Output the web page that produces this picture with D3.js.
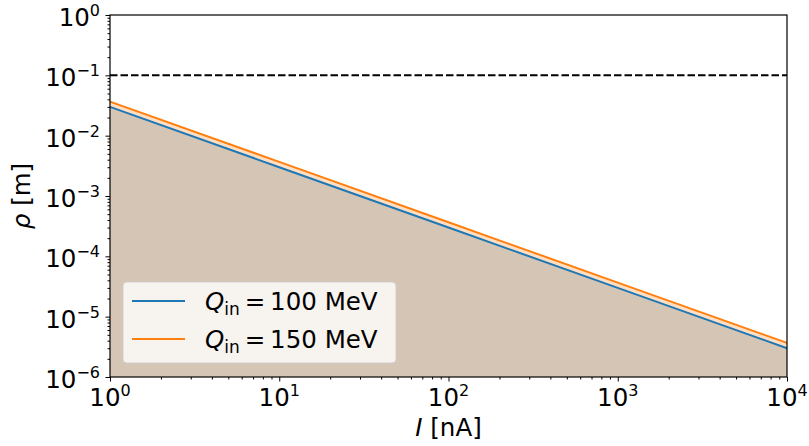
<!DOCTYPE html>
<html>
<head>
<meta charset="utf-8">
<script src="https://cdn.jsdelivr.net/npm/d3@7"></script>
<style>
  body { margin: 0; background: #fff; }
  text { font-family: "DejaVu Sans", sans-serif; fill: #000; }
</style>
</head>
<body>
<svg id="chart" width="809" height="446"></svg>
<script>
// beam current [nA] and radius rho [m] for two injection energies
var currents = [1, 10, 100, 1000, 10000];
var rho100 = [3.0e-2, 3.0e-3, 3.0e-4, 3.0e-5, 3.0e-6];
var rho150 = [3.67e-2, 3.67e-3, 3.67e-4, 3.67e-5, 3.67e-6];
var seriesNames = ['100', '150'];
var seriesColors = ['#1f77b4', '#ff7f0e'];
var limitRho = 0.1;
var xTicks = [1, 10, 100, 1000, 10000];
var yTicks = [1e-6, 1e-5, 1e-4, 1e-3, 1e-2, 1e-1, 1e0];

var svg = d3.select('#chart');
var padding = { t: 15, r: 22, b: 69, l: 110 };
var svgWidth = +svg.attr('width');
var svgHeight = +svg.attr('height');
var chartWidth = svgWidth - padding.l - padding.r;
var chartHeight = svgHeight - padding.t - padding.b;

var xScale = d3.scaleLog().domain([1, 1e4]).range([0, chartWidth]);
var yScale = d3.scaleLog().domain([1e-6, 1]).range([chartHeight, 0]);

var chartG = svg.append('g')
  .attr('transform', 'translate(' + [padding.l, padding.t] + ')');

var series = [rho100, rho150].map(function (vals, i) {
  return {
    name: seriesNames[i],
    color: seriesColors[i],
    points: currents.map(function (c, j) { return { x: c, y: vals[j] }; })
  };
});

// filled areas under each curve
var area = d3.area()
  .x(d => xScale(d.x))
  .y0(chartHeight)
  .y1(d => yScale(d.y));

chartG.selectAll('.fill')
  .data(series)
  .enter()
  .append('path')
  .attr('class', 'fill')
  .attr('d', d => area(d.points))
  .style('fill', d => d.color)
  .style('fill-opacity', 0.25);

// dashed limit
chartG.append('line')
  .attr('x1', 0)
  .attr('x2', chartWidth)
  .attr('y1', yScale(limitRho))
  .attr('y2', yScale(limitRho))
  .attr('stroke', '#000')
  .attr('stroke-width', 2)
  .attr('stroke-dasharray', '7.5,3');

var line = d3.line()
  .x(d => xScale(d.x))
  .y(d => yScale(d.y));

chartG.selectAll('.curve')
  .data(series)
  .enter()
  .append('path')
  .attr('class', 'curve')
  .attr('d', d => line(d.points))
  .attr('fill', 'none')
  .attr('stroke', d => d.color)
  .attr('stroke-width', 2);

// minor ticks
function minorValues(domain) {
  var out = [];
  var lo = Math.round(Math.log10(domain[0]));
  var hi = Math.round(Math.log10(domain[1]));
  for (var e = lo; e < hi; e++) {
    for (var m = 2; m < 10; m++) out.push(m * Math.pow(10, e));
  }
  return out;
}

var xAxisG = chartG.append('g').attr('transform', 'translate(0,' + chartHeight + ')');
xAxisG.call(d3.axisBottom(xScale).tickValues(minorValues(xScale.domain())).tickSize(2.5).tickFormat(''));
var xMajor = chartG.append('g').attr('transform', 'translate(0,' + chartHeight + ')');
xMajor.call(d3.axisBottom(xScale).tickValues(xTicks).tickSize(4.5).tickFormat(''));

var yAxisG = chartG.append('g');
yAxisG.call(d3.axisLeft(yScale).tickValues(minorValues(yScale.domain())).tickSize(2.5).tickFormat(''));
var yMajor = chartG.append('g');
yMajor.call(d3.axisLeft(yScale).tickValues(yTicks).tickSize(4.5).tickFormat(''));

chartG.selectAll('.domain').remove();
chartG.selectAll('.tick line').attr('stroke', '#000').attr('stroke-width', 1);

// frame
chartG.append('rect')
  .attr('width', chartWidth)
  .attr('height', chartHeight)
  .attr('fill', 'none')
  .attr('stroke', '#000')
  .attr('stroke-width', 1.2);

function powerLabel(sel, v) {
  var e = Math.round(Math.log10(v));
  sel.append('tspan').text('10');
  sel.append('tspan')
    .attr('dy', -10)
    .style('font-size', '16px')
    .text(e < 0 ? '\u2212' + (-e) : '' + e);
}

xTicks.forEach(function (v) {
  var t = chartG.append('text')
    .attr('x', xScale(v))
    .attr('y', chartHeight + 29)
    .style('font-size', '24.5px')
    .style('text-anchor', 'middle');
  powerLabel(t, v);
});

yTicks.forEach(function (v) {
  var t = chartG.append('text')
    .attr('x', -10)
    .attr('y', yScale(v) + 11)
    .style('font-size', '24.5px')
    .style('text-anchor', 'end');
  powerLabel(t, v);
});

// axis titles
var xl = svg.append('text')
  .attr('x', padding.l + chartWidth / 2)
  .attr('y', 436)
  .style('font-size', '24.5px')
  .style('text-anchor', 'middle');
xl.append('tspan').style('font-style', 'italic').text('I');
xl.append('tspan').text(' [nA]');

var yl = svg.append('text')
  .attr('transform', 'translate(30,' + (padding.t + chartHeight / 2) + ') rotate(-90)')
  .style('font-size', '24.5px')
  .style('text-anchor', 'middle');
yl.append('tspan').style('font-style', 'italic').text('\u03c1');
yl.append('tspan').text(' [m]');

// legend
var legendG = svg.append('g').attr('transform', 'translate(123,282)');
legendG.append('rect')
  .attr('width', 273)
  .attr('height', 81)
  .attr('rx', 4)
  .attr('fill', '#fff')
  .attr('fill-opacity', 0.8)
  .attr('stroke', '#ccc')
  .attr('stroke-opacity', 0.8);

var rows = legendG.selectAll('.row')
  .data(series)
  .enter()
  .append('g')
  .attr('class', 'row')
  .attr('transform', (d, i) => 'translate(0,' + (19 + i * 38) + ')');

rows.append('line')
  .attr('x1', 9)
  .attr('x2', 62)
  .attr('stroke', d => d.color)
  .attr('stroke-width', 2);

var lt = rows.append('text')
  .attr('x', 82)
  .attr('y', 9)
  .style('font-size', '24.5px');
lt.append('tspan').style('font-style', 'italic').text('Q');
lt.append('tspan').attr('dy', 5).style('font-size', '17px').text('in');
lt.append('tspan').attr('dy', -5).text(d => '\u2009=\u2009' + d.name + ' MeV');
</script>
</body>
</html>
